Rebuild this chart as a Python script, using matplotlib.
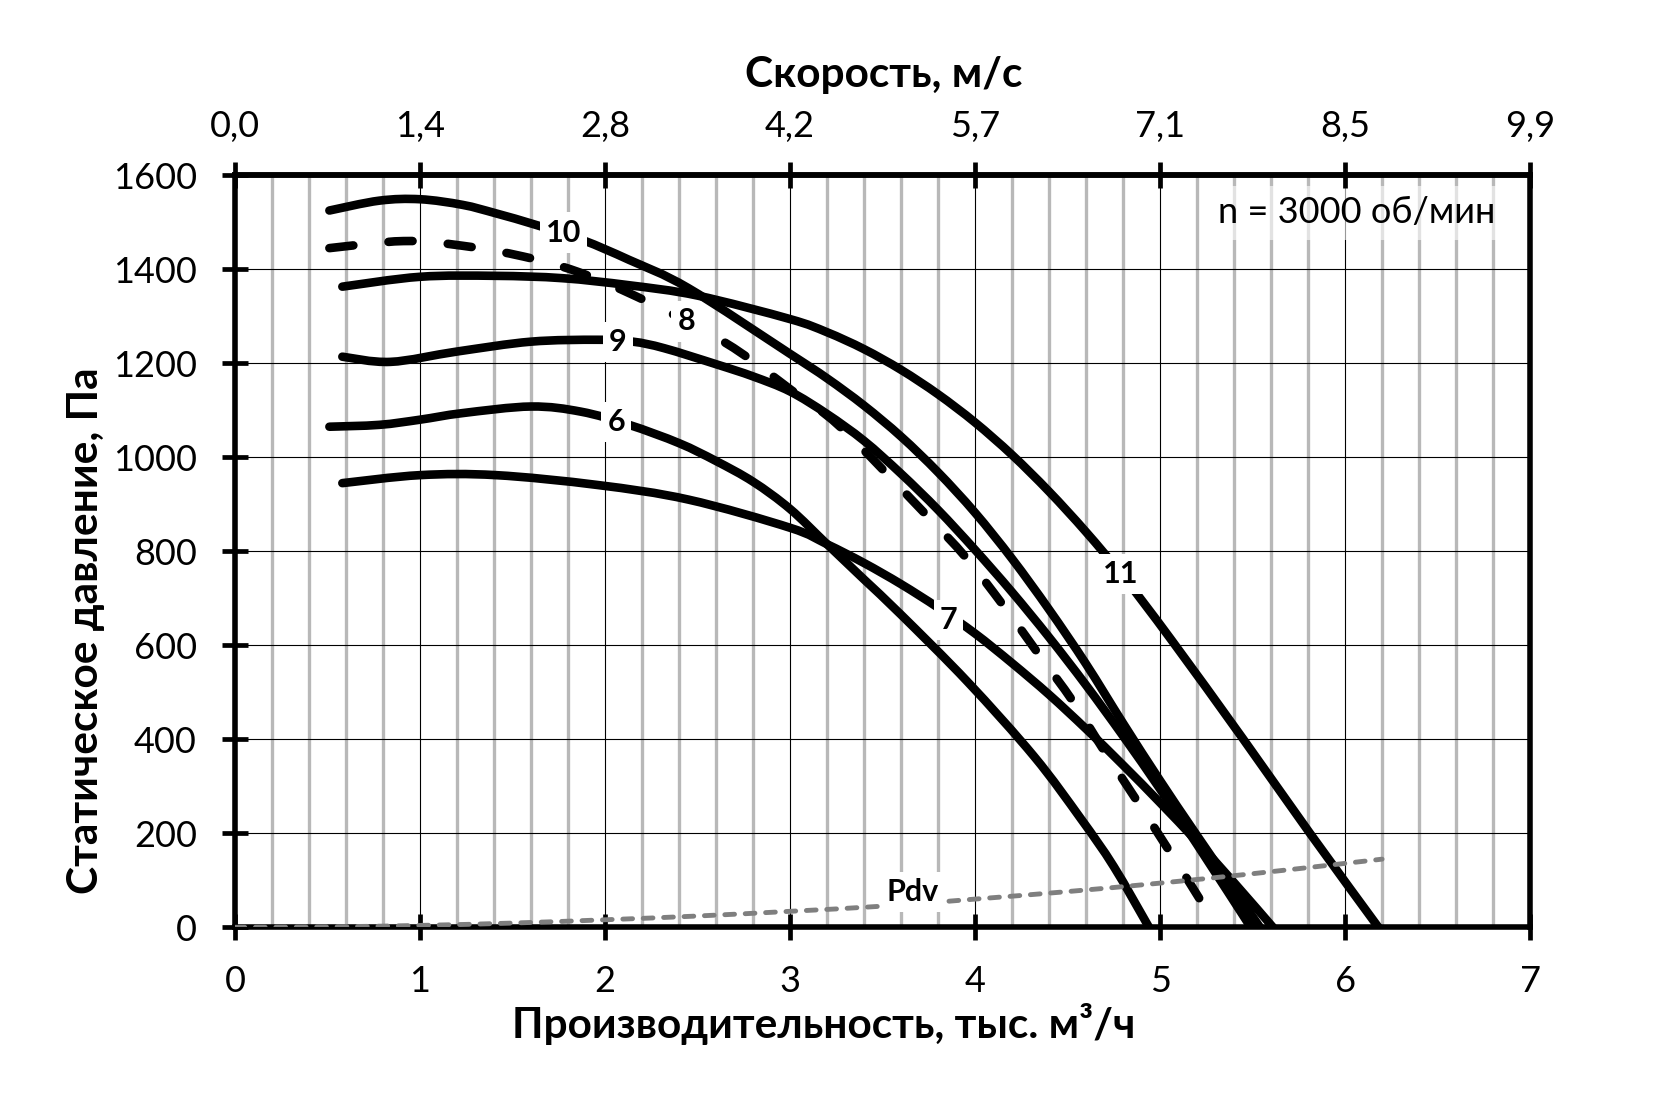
import matplotlib
matplotlib.use("Agg")
import numpy as np
import matplotlib.pyplot as plt
from matplotlib.ticker import MultipleLocator
from matplotlib.path import Path
from matplotlib.patches import PathPatch

plt.rcParams['font.family'] = ['Lato', 'Open Sans', 'DejaVu Sans']

# --- данные: расход (тыс. м3/ч) и давление (Па) ---
q10 = [0.51, 0.78, 1.00, 1.23, 1.41, 1.63, 1.88, 2.13, 2.45, 3.00, 3.20, 3.40, 3.60, 3.80, 4.00, 4.20, 4.40, 4.60, 4.80, 5.00, 5.20, 5.54]
p10 = [1525, 1546, 1549, 1537, 1519, 1494, 1462, 1420, 1360, 1220, 1168, 1110, 1044, 968, 882, 784, 676, 560, 434, 312, 195, 0]

q8 = [0.51, 0.91, 1.23, 1.56, 1.85, 2.17, 2.53, 2.75, 3.01, 3.27, 3.72, 3.95, 4.15, 4.34, 4.53, 4.70, 4.88, 5.06, 5.23, 5.30]
p8 = [1445, 1460, 1450, 1427, 1395, 1342, 1271, 1218, 1142, 1065, 884, 787, 686, 583, 480, 374, 266, 156, 50, 0]

q11 = [0.58, 1.00, 1.41, 1.77, 2.13, 2.50, 3.00, 3.20, 3.40, 3.60, 3.80, 4.00, 4.20, 4.40, 4.60, 4.80, 5.06, 5.45, 5.81, 6.18]
p11 = [1363, 1384, 1386, 1381, 1366, 1344, 1294, 1266, 1230, 1186, 1134, 1074, 1005, 927, 841, 747, 612, 400, 200, 0]

q9 = [0.58, 0.84, 1.20, 1.60, 1.96, 2.15, 2.32, 2.60, 2.80, 3.00, 3.20, 3.40, 3.60, 3.80, 4.00, 4.20, 4.40, 4.60, 4.80, 5.00, 5.20, 5.49]
p9 = [1214, 1203, 1225, 1246, 1250, 1246, 1232, 1198, 1172, 1140, 1092, 1035, 965, 888, 803, 713, 617, 515, 407, 294, 176, 0]

q6 = [0.51, 0.78, 1.00, 1.23, 1.60, 1.87, 2.13, 2.40, 2.60, 2.80, 3.00, 3.20, 3.40, 3.60, 3.96, 4.32, 4.57, 4.75, 4.94]
p6 = [1065, 1069, 1080, 1094, 1108, 1097, 1069, 1030, 992, 948, 890, 815, 740, 665, 522, 363, 232, 129, 0]

q7 = [0.58, 1.00, 1.41, 1.96, 2.45, 3.00, 3.20, 3.40, 3.60, 3.80, 4.00, 4.20, 4.40, 4.60, 4.80, 5.00, 5.20, 5.40, 5.61]
p7 = [945, 962, 962, 941, 910, 850, 815, 775, 730, 680, 625, 562, 495, 422, 345, 265, 182, 95, 0]

q_pdv = [0, 0.5, 1, 1.5, 2, 2.5, 3, 3.5, 4, 4.5, 5, 5.5, 6, 6.2]
p_pdv = [0, 1, 4, 9, 16, 24, 34, 45, 60, 76, 94, 114, 136, 145]

# подписи кривых и их положение
curve_labels = ['10', '9', '6', '8', '7', '11', 'Pdv']
label_q = [1.775, 2.07, 2.06, 2.44, 3.856, 4.787, 3.66]
label_p = [1478, 1246, 1075, 1289, 654, 752, 75]

flow_ticks = [0, 1, 2, 3, 4, 5, 6, 7]
speed_labels = ['0,0', '1,4', '2,8', '4,2', '5,7', '7,1', '8,5', '9,9']


def smooth_path(q, p):
    """Сглаженная линия через точки (как в Excel): кубические Безье Catmull-Rom."""
    pts = np.column_stack([q, p]).astype(float)
    ext = np.vstack([pts[0], pts, pts[-1]])
    verts = [pts[0]]
    codes = [Path.MOVETO]
    for i in range(1, len(ext) - 2):
        p0, p1, p2, p3 = ext[i - 1], ext[i], ext[i + 1], ext[i + 2]
        verts += [p1 + (p2 - p0) / 6.0, p2 - (p3 - p1) / 6.0, p2]
        codes += [Path.CURVE4] * 3
    return Path(verts, codes)


def draw_curve(ax, q, p, **kw):
    patch = PathPatch(smooth_path(q, p), fill=False, transform=ax.transData, **kw)
    ax.add_patch(patch)


fig = plt.figure(figsize=(16.54, 11.03), dpi=100)
ax = fig.add_axes([0.1421, 0.1593, 0.7830, 0.6818])

ax.set_xlim(0, 7)
ax.set_ylim(0, 1600)
ax.xaxis.set_major_locator(MultipleLocator(1))
ax.xaxis.set_minor_locator(MultipleLocator(0.2))
ax.yaxis.set_major_locator(MultipleLocator(200))
ax.set_axisbelow(True)
ax.grid(which='minor', axis='x', color='#b8b8b8', linewidth=2.4)
ax.grid(which='major', color='black', linewidth=0.8)

# --- сплошные кривые ---
for q, p in [(q10, p10), (q11, p11), (q9, p9), (q6, p6), (q7, p7)]:
    draw_curve(ax, q, p, edgecolor='black', linewidth=6.2, capstyle='round', zorder=3)

# кривая 8 — пунктир
draw_curve(ax, q8, p8, edgecolor='black', linewidth=6.2, linestyle=(0, (2.8, 4.1)),
           capstyle='round', zorder=3)

# динамическое давление
draw_curve(ax, q_pdv, p_pdv, edgecolor='#7f7f7f', linewidth=3.5,
           linestyle=(0, (2.0, 2.2)), capstyle='round', zorder=4)

for txt, x, y in zip(curve_labels, label_q, label_p):
    ax.text(x, y, txt, ha='center', va='center', fontsize=22, fontweight='bold',
            bbox=dict(boxstyle='square,pad=0.2', facecolor='white', edgecolor='none'),
            zorder=5)

ax.text(6.06, 1520, 'n = 3000 об/мин', ha='center', va='center', fontsize=26,
        bbox=dict(boxstyle='square,pad=0.3', facecolor='white', edgecolor='none', alpha=0.6),
        zorder=4)

# оси и деления
for s in ax.spines.values():
    s.set_linewidth(4)
ax.tick_params(which='major', direction='inout', length=19, width=3.4,
               labelsize=26, pad=18)
ax.tick_params(which='minor', length=0)
ax.tick_params(axis='y', right=False)

# верхняя ось — скорость
ax_top = ax.twiny()
ax_top.set_xlim(ax.get_xlim())
ax_top.set_xticks(flow_ticks)
ax_top.set_xticklabels(speed_labels)
ax_top.tick_params(which='major', direction='inout', length=19, width=3.4,
                   labelsize=26, pad=14)
for name, s in ax_top.spines.items():
    s.set_linewidth(4)
    s.set_visible(name == 'top')

fig.text(0.534, 0.932, 'Скорость, м/с', ha='center', va='center',
         fontsize=30.5, fontweight='bold')
fig.text(0.498, 0.0716, 'Производительность, тыс. м³/ч', ha='center', va='center',
         fontsize=30.5, fontweight='bold')
fig.text(0.052, 0.428, 'Статическое давление, Па', ha='center', va='center',
         rotation=90, fontsize=30.5, fontweight='bold')

fig.savefig('out.png', dpi=100)
